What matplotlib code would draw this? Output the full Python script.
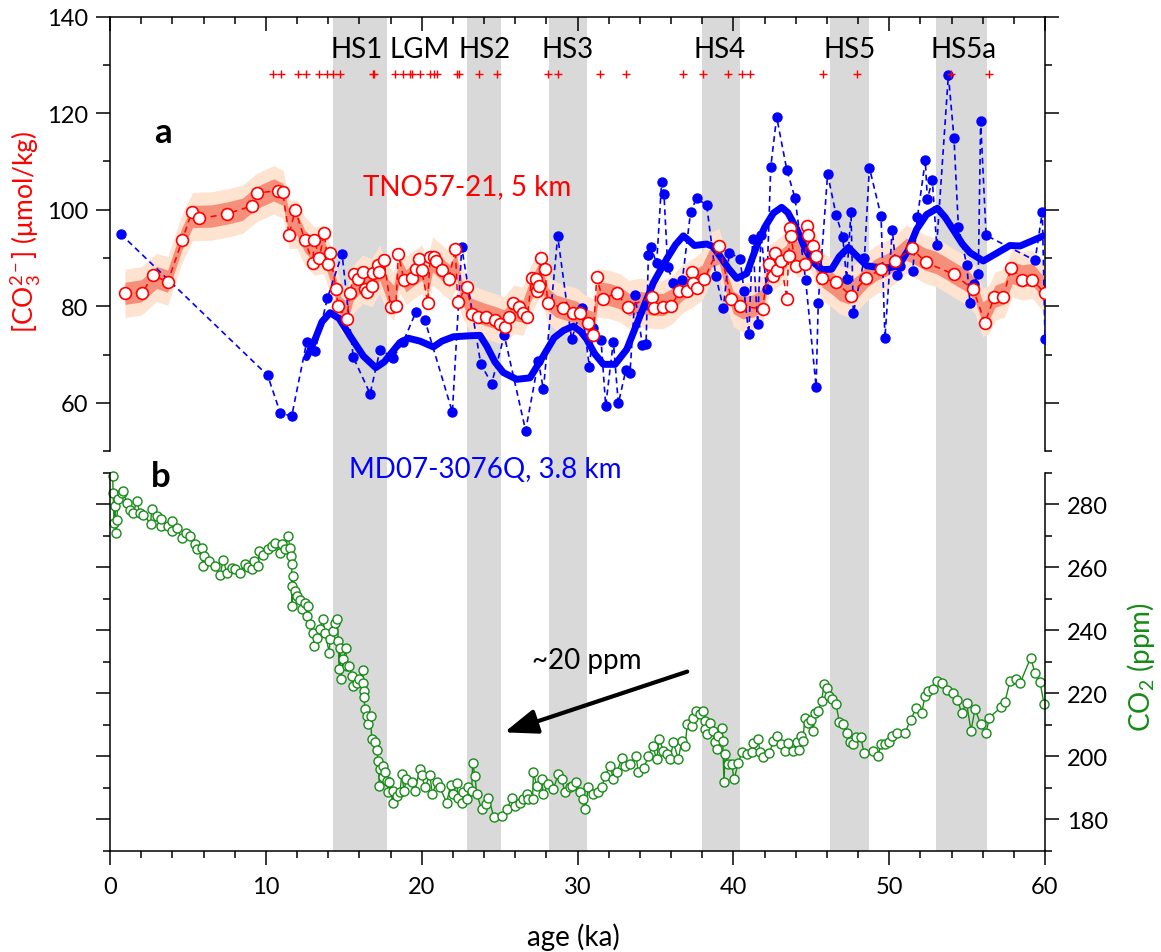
import numpy as np
import matplotlib
matplotlib.use('Agg')
from matplotlib import pyplot as plt
from matplotlib.ticker import MultipleLocator

plt.rcParams['font.family'] = ['Lato', 'DejaVu Sans']
plt.rcParams['mathtext.fontset'] = 'custom'
plt.rcParams['mathtext.rm'] = 'Lato'
plt.rcParams['mathtext.it'] = 'Lato:italic'
plt.rcParams['mathtext.bf'] = 'Lato:bold'

# ---------------- data ----------------
hs_names = ['HS1', 'LGM', 'HS2', 'HS3', 'HS4', 'HS5', 'HS5a']
hs_label_age = [15.85, 19.89, 24.06, 29.39, 39.11, 47.46, 54.74]
hs_start = [14.3, 22.9, 28.2, 38.0, 46.2, 53.0]
hs_end = [17.8, 25.1, 30.6, 40.4, 48.7, 56.3]

# radiocarbon dates (red crosses)
date_age = [10.46, 11.0, 12.06, 12.58, 13.4, 13.9, 14.33, 14.76, 16.85, 16.95,
            18.29, 18.82, 19.28, 19.38, 19.89, 20.54, 20.81, 20.96, 22.25, 22.42,
            23.68, 24.86, 28.13, 28.77, 31.44, 33.11, 36.75, 38.07, 39.68, 40.54,
            41.07, 45.77, 47.92, 53.95, 56.39]
date_level = 128

# TNO57-21 [CO3 2-]
tno_age = [0.96, 2.07, 2.78, 3.70, 4.64, 5.24, 5.73, 7.49, 9.09, 9.41,
           10.80, 11.08, 11.49, 11.89, 12.51, 13.01, 13.11, 13.43, 13.75, 14.01,
           14.12, 14.50, 14.63, 15.19, 15.40, 15.66, 15.94, 16.21, 16.36, 16.47,
           16.83, 16.90, 17.22, 17.28, 17.58, 18.01, 18.35, 18.50, 18.87, 19.36,
           19.64, 19.85, 20.00, 20.39, 20.54, 20.79, 20.92, 21.33, 21.73, 22.16,
           22.31, 22.89, 23.25, 23.59, 24.13, 24.69, 25.03, 25.35, 25.63, 25.84,
           26.23, 26.48, 26.78, 27.06, 27.32, 27.38, 27.55, 27.64, 27.91, 28.09,
           29.09, 29.69, 30.16, 30.65, 31.02, 31.23, 31.61, 32.52, 33.22, 34.80,
           34.90, 35.47, 36.02, 36.53, 37.01, 37.35, 37.40, 37.69, 38.14, 39.10,
           39.87, 40.45, 41.88, 42.27, 42.57, 42.65, 42.82, 43.06, 43.43, 43.55,
           43.64, 43.68, 44.02, 44.60, 44.75, 44.80, 45.13, 45.31, 45.67, 46.57,
           47.53, 48.51, 49.46, 50.37, 51.45, 52.36, 54.16, 55.40, 56.15, 56.75,
           57.33, 57.82, 58.55, 59.19, 60.0]
tno_co3 = [82.8, 82.8, 86.5, 85.0, 93.7, 99.5, 98.2, 99.1, 100.8, 103.5,
           103.9, 103.6, 94.8, 100.0, 93.7, 88.9, 93.8, 90.1, 95.1, 88.7,
           91.1, 83.6, 80.0, 77.3, 82.8, 86.6, 85.6, 87.2, 83.5, 83.0,
           84.2, 87.0, 88.5, 87.1, 89.6, 79.9, 80.1, 90.8, 85.4, 85.8,
           87.7, 89.8, 87.5, 80.8, 90.3, 90.2, 89.4, 87.5, 85.6, 91.8,
           81.0, 84.1, 78.4, 77.9, 77.8, 77.1, 76.3, 75.7, 77.8, 80.6,
           79.8, 78.6, 77.7, 85.9, 85.6, 83.2, 84.2, 90.0, 87.7, 80.6,
           79.7, 78.6, 78.6, 76.6, 74.0, 86.0, 81.6, 82.7, 79.9, 82.0,
           79.6, 79.9, 80.0, 83.1, 83.2, 87.1, 84.9, 83.7, 85.6, 92.5,
           81.5, 80.0, 79.5, 88.7, 86.3, 91.0, 87.5, 89.4, 81.5, 90.4,
           96.3, 94.6, 88.4, 88.7, 96.7, 94.8, 92.5, 90.4, 85.8, 85.1,
           82.2, 85.8, 87.7, 89.4, 92.0, 89.1, 86.6, 83.5, 76.6, 82.0,
           82.0, 88.0, 85.5, 85.5, 82.7]

# TNO57-21 uncertainty envelope (centre line, half widths)
band_age = [0.96, 2.0, 3.0, 3.7, 4.6, 5.3, 6.5, 7.5, 8.5, 9.4,
            10.5, 11.1, 11.5, 12.0, 12.5, 13.1, 13.7, 14.3, 14.8, 15.2,
            15.6, 16.2, 16.8, 17.3, 17.8, 18.2, 18.6, 19.0, 19.5, 20.0,
            20.4, 20.7, 21.3, 21.8, 22.2, 22.6, 23.2, 24.0, 24.7, 25.3,
            25.9, 26.5, 27.0, 27.6, 28.1, 28.6, 29.3, 30.0, 30.5, 31.0,
            31.3, 32.0, 32.7, 33.3, 34.0, 34.9, 35.5, 36.1, 36.7, 37.4,
            38.0, 38.6, 39.1, 39.5, 40.0, 40.6, 41.3, 41.9, 42.3, 42.9,
            43.4, 43.7, 44.1, 44.6, 44.8, 45.2, 45.7, 46.3, 46.8, 47.4,
            48.0, 48.6, 49.2, 49.9, 50.5, 51.1, 51.6, 52.3, 53.0, 53.6,
            54.3, 55.0, 55.5, 56.0, 56.4, 56.8, 57.4, 57.9, 58.5, 59.2, 60.0]
band_mid = [82.7, 83.2, 86.0, 85.2, 93.9, 98.6, 98.7, 99.3, 100.1, 102.5,
            104.1, 103.2, 97.0, 97.0, 93.5, 91.5, 91.8, 86.0, 79.7, 78.7,
            83.5, 85.6, 84.9, 87.7, 83.5, 82.1, 87.7, 85.3, 86.6, 87.7,
            84.9, 89.4, 87.7, 86.3, 88.7, 82.8, 79.4, 78.4, 77.7, 77.0,
            79.4, 79.0, 83.5, 87.0, 81.5, 80.1, 79.4, 78.7, 77.3, 76.6,
            82.8, 82.5, 81.8, 80.4, 80.8, 80.4, 80.4, 81.5, 83.5, 84.9,
            86.3, 90.4, 91.1, 85.6, 80.8, 79.7, 80.1, 81.5, 87.7, 89.1,
            90.4, 93.9, 91.1, 91.1, 93.9, 90.4, 86.3, 84.9, 83.5, 82.8,
            84.2, 86.3, 87.7, 88.7, 90.1, 91.8, 91.1, 89.8, 89.1, 88.0,
            86.6, 85.3, 83.5, 78.7, 79.4, 82.1, 82.8, 87.0, 86.3, 86.6, 83.5]
band_inner = 2.3
band_outer = 5.0

# MD07-3076Q [CO3 2-]
md_age = [0.68, 10.12, 10.93, 11.66, 12.62, 13.16, 13.95, 14.89, 15.61, 16.69,
          17.33, 18.18, 18.82, 19.64, 20.21, 21.97, 22.57, 23.79, 24.49, 25.30,
          26.67, 27.49, 27.81, 28.73, 29.62, 30.27, 30.76, 31.02, 31.51, 31.81,
          32.30, 32.62, 33.11, 33.37, 33.69, 34.16, 34.40, 34.55, 34.72, 35.08,
          35.40, 35.55, 35.79, 36.15, 36.73, 37.26, 37.65, 38.29, 38.87, 39.36,
          39.74, 40.43, 40.69, 40.99, 41.24, 41.56, 41.78, 42.14, 42.40, 42.78,
          43.43, 43.96, 44.64, 45.31, 45.45, 46.05, 46.59, 47.02, 47.27, 47.55,
          47.70, 48.41, 48.73, 49.48, 49.73, 50.20, 50.48, 50.70, 51.51, 51.81,
          52.32, 52.45, 52.77, 53.05, 53.80, 54.16, 54.44, 54.98, 55.19, 55.45,
          55.72, 55.87, 56.22, 59.36, 59.83, 60.0]
md_co3 = [95.0, 65.7, 57.9, 57.3, 72.6, 70.8, 81.7, 90.9, 69.5, 61.9,
          71.0, 69.4, 72.7, 78.9, 77.1, 58.1, 92.2, 68.1, 64.0, 74.0,
          54.3, 68.6, 62.8, 94.5, 73.2, 79.7, 67.5, 75.5, 73.0, 59.4,
          72.7, 59.9, 66.9, 66.3, 82.3, 72.1, 72.3, 90.6, 92.2, 88.9,
          105.8, 103.2, 88.2, 84.9, 85.5, 99.6, 102.4, 100.9, 86.3, 79.7,
          91.1, 89.9, 83.1, 74.2, 93.9, 76.3, 94.8, 83.5, 108.8, 119.2,
          108.3, 102.4, 85.4, 63.4, 80.8, 107.4, 99.0, 94.4, 85.6, 99.6,
          78.6, 90.0, 108.7, 98.7, 73.4, 95.9, 86.5, 88.4, 87.3, 98.4,
          110.2, 102.2, 106.1, 92.6, 127.9, 114.8, 96.5, 88.6, 80.6, 84.6,
          86.8, 118.3, 94.7, 89.5, 99.6, 73.3]

# MD07-3076Q smoothed curve
smooth_age = [12.62, 13.2, 13.6, 14.12, 14.7, 15.4, 16.26, 17.05, 17.6, 18.07,
              18.6, 19.15, 19.9, 20.75, 21.3, 22.03, 23.0, 23.74, 24.17, 24.7,
              25.24, 26.1, 26.95, 27.8, 28.5, 29.1, 29.73, 30.2, 30.59, 31.1,
              31.66, 32.41, 33.16, 34.01, 34.87, 35.72, 36.3, 36.79, 37.2, 37.5,
              38.29, 38.7, 39.14, 39.7, 40.22, 40.86, 41.5, 42.0, 42.57, 43.1,
              43.5, 44.07, 44.6, 45.13, 45.7, 46.31, 46.8, 47.38, 47.9, 48.56,
              49.41, 50.0, 50.59, 51.2, 51.77, 52.4, 53.09, 53.6, 54.22, 54.7,
              55.19, 56.04, 56.9, 57.75, 58.4, 59.2, 59.9]
smooth_co3 = [69.4, 73.5, 76.8, 78.7, 77.5, 73.9, 69.7, 67.3, 68.5, 70.4,
              72.5, 73.4, 72.8, 71.6, 72.8, 73.7, 73.9, 74.0, 71.8, 68.5,
              66.3, 64.9, 65.2, 69.7, 73.5, 75.0, 75.9, 74.8, 73.2, 70.2,
              68.0, 68.0, 71.1, 78.0, 84.9, 89.8, 92.8, 94.6, 93.5, 92.6,
              92.9, 92.4, 90.4, 87.8, 85.8, 86.8, 92.5, 96.3, 99.3, 100.5,
              99.4, 96.0, 92.0, 89.1, 87.6, 87.7, 90.3, 92.2, 90.5, 88.4,
              88.0, 88.0, 88.4, 91.5, 96.0, 99.0, 100.3, 98.4, 95.3, 92.9,
              91.1, 89.4, 91.0, 92.6, 92.5, 93.6, 94.6]

# ice-core CO2
co2_age = [0.17, 0.20, 0.26, 0.32, 0.39, 0.43, 0.54, 0.75, 0.86, 1.07,
           1.28, 1.50, 1.71, 1.92, 2.14, 2.61, 2.67, 2.99, 3.25, 3.30,
           3.74, 3.96, 4.00, 4.28, 4.60, 4.88, 5.13, 5.45, 5.56, 5.88,
           5.95, 6.05, 6.37, 6.74, 7.06, 7.27, 7.49, 7.81, 8.02, 8.34,
           8.66, 8.88, 9.09, 9.24, 9.52, 9.55, 9.84, 10.16, 10.37, 10.59,
           10.91, 11.02, 11.23, 11.44, 11.55, 11.62, 11.66, 11.68, 11.70, 11.76,
           11.87, 11.98, 12.19, 12.30, 12.51, 12.62, 12.73, 12.83, 13.05, 13.10,
           13.26, 13.48, 13.65, 13.80, 14.07, 14.12, 14.29, 14.44, 14.59, 14.65,
           14.70, 14.76, 14.80, 14.97, 15.14, 15.19, 15.36, 15.51, 15.61, 15.83,
           16.00, 16.21, 16.26, 16.28, 16.30, 16.36, 16.47, 16.58, 16.73, 16.79,
           17.01, 17.11, 17.22, 17.28, 17.33, 17.50, 17.54, 17.65, 17.75, 17.86,
           17.92, 18.14, 18.18, 18.40, 18.61, 18.72, 18.87, 19.00, 19.36, 19.57,
           19.89, 20.00, 20.21, 20.53, 20.68, 20.96, 21.17, 21.60, 21.86, 22.03,
           22.25, 22.35, 22.57, 22.67, 22.89, 22.99, 23.21, 23.27, 23.42, 23.53,
           23.85, 24.13, 24.28, 24.64, 25.13, 25.46, 25.78, 25.99, 26.31, 26.52,
           26.74, 26.84, 27.12, 27.17, 27.38, 27.70, 27.81, 28.13, 28.45, 28.77,
           28.98, 29.20, 29.52, 29.63, 29.90, 30.16, 30.33, 30.48, 30.70, 31.02,
           31.34, 31.55, 31.77, 32.09, 32.30, 32.52, 32.84, 33.05, 33.37, 33.76,
           33.90, 34.27, 34.55, 34.82, 35.08, 35.25, 35.51, 35.72, 35.94, 36.15,
           36.47, 36.69, 36.90, 37.05, 37.33, 37.43, 37.60, 37.86, 38.03, 38.18,
           38.20, 38.33, 38.50, 38.67, 38.82, 38.93, 39.04, 39.25, 39.32, 39.40,
           39.47, 39.68, 39.90, 40.04, 40.32, 40.54, 40.86, 41.18, 41.28, 41.60,
           41.71, 41.88, 42.31, 42.57, 42.82, 43.04, 43.32, 43.53, 43.81, 44.07,
           44.24, 44.32, 44.45, 44.60, 44.81, 44.96, 45.14, 45.24, 45.46, 45.67,
           45.82, 46.03, 46.16, 46.31, 46.59, 46.80, 47.06, 47.27, 47.49, 47.66,
           47.87, 48.17, 48.39, 48.94, 49.30, 49.45, 49.73, 49.99, 50.16, 50.48,
           51.02, 51.38, 51.72, 52.09, 52.30, 52.51, 52.79, 53.05, 53.37, 53.73,
           54.12, 54.38, 54.65, 54.97, 55.25, 55.51, 55.87, 56.22, 56.43, 57.16,
           57.43, 57.76, 58.14, 58.40, 59.08, 59.36, 59.68, 59.94]
co2_ppm = [289.0, 283.7, 274.2, 279.5, 271.0, 275.2, 281.6, 283.7, 284.2, 280.5,
           278.4, 277.4, 281.0, 277.4, 276.8, 273.9, 278.6, 276.3, 273.1, 275.4,
           273.1, 274.7, 271.5, 272.6, 269.2, 271.0, 270.0, 267.3, 265.7, 266.2,
           260.4, 263.6, 262.2, 260.4, 257.5, 262.5, 258.3, 259.9, 259.4, 258.3,
           261.0, 260.2, 259.4, 262.0, 260.4, 265.2, 264.1, 265.7, 266.8, 267.8,
           264.7, 267.3, 265.7, 270.0, 266.2, 263.6, 261.0, 247.7, 254.1, 257.3,
           252.5, 250.9, 249.8, 246.7, 248.8, 244.6, 247.7, 241.9, 239.3, 235.0,
           237.7, 240.3, 243.7, 239.3, 232.9, 237.2, 239.8, 242.5, 243.5, 236.6,
           227.6, 234.5, 224.5, 230.8, 234.5, 228.7, 228.7, 225.5, 222.4, 223.2,
           224.5, 227.4, 223.4, 220.8, 218.7, 214.9, 212.8, 210.2, 212.8, 205.4,
           204.4, 202.0, 198.6, 190.6, 195.9, 193.3, 197.0, 194.9, 192.2, 188.5,
           191.7, 185.3, 189.0, 187.5, 188.5, 194.3, 189.0, 192.7, 191.7, 189.0,
           196.1, 194.0, 190.1, 194.0, 188.0, 191.7, 190.1, 185.3, 190.8, 188.0,
           191.5, 186.9, 185.3, 188.7, 186.4, 190.1, 189.0, 197.8, 193.8, 188.0,
           183.2, 184.8, 186.9, 180.6, 180.9, 183.2, 186.6, 184.3, 185.3, 186.4,
           188.0, 186.4, 186.4, 195.1, 190.6, 192.7, 188.0, 191.2, 189.6, 194.3,
           192.7, 188.5, 190.1, 190.6, 191.7, 188.5, 186.4, 183.2, 190.1, 188.0,
           188.5, 190.1, 193.8, 197.0, 192.7, 194.9, 199.3, 197.0, 197.5, 200.1,
           194.9, 196.4, 200.1, 203.3, 199.1, 205.4, 201.7, 200.7, 199.1, 204.4,
           199.1, 204.9, 203.3, 210.2, 209.6, 212.3, 214.4, 213.4, 214.4, 211.2,
           208.6, 207.0, 210.7, 208.1, 204.4, 202.3, 206.5, 209.1, 204.9, 191.7,
           200.7, 197.5, 197.5, 192.7, 197.8, 201.4, 200.7, 201.4, 204.2, 205.4,
           201.2, 199.9, 201.0, 204.9, 206.5, 203.8, 201.7, 204.2, 201.7, 204.4,
           202.0, 206.3, 204.9, 212.3, 210.5, 211.6, 208.1, 213.7, 214.4, 217.6,
           222.9, 221.8, 219.2, 218.3, 216.5, 211.0, 210.2, 207.5, 204.4, 203.8,
           206.0, 206.2, 201.0, 201.7, 200.1, 203.8, 203.8, 204.4, 206.5, 207.5,
           207.5, 211.6, 215.2, 213.9, 219.0, 220.8, 221.3, 224.0, 223.4, 221.1,
           220.2, 217.9, 213.9, 216.9, 208.1, 215.0, 210.2, 207.5, 212.3, 215.5,
           217.3, 224.0, 224.5, 223.2, 231.3, 226.4, 223.6, 216.5]

# annotation
arrow_tail = (37.04, 226.9)
arrow_head = (25.3, 207.6)

# ---------------- figure ----------------
W, H = 1161, 953
fig = plt.figure(figsize=(W / 100, H / 100), dpi=100)


def px_box(x0, y0, x1, y1):
    return [x0 / W, 1 - y1 / H, (x1 - x0) / W, (y1 - y0) / H]


red = '#ff0000'
blue = '#0000ff'
green = '#178a17'
gray = '#d9d9d9'

# shaded Heinrich stadials span both panels
ax_bg = fig.add_axes(px_box(110, 17.5, 1045, 851.7))
ax_bg.set_xlim(0, 60)
ax_bg.axis('off')
for a0, a1 in zip(hs_start, hs_end):
    ax_bg.axvspan(a0, a1, color=gray, lw=0)

# ---- panel a ----
ax_a = fig.add_axes(px_box(110, 17.5, 1045, 452.3))
ax_a.patch.set_visible(False)
bm = np.array(band_mid)
ax_a.fill_between(band_age, bm - band_outer, bm + band_outer, color='#fde3d0', lw=0, zorder=1)
ax_a.fill_between(band_age, bm - band_inner, bm + band_inner, color='#f68f7a', lw=0, zorder=2)
ax_a.plot(md_age, md_co3, ls=(0, (3.5, 2.5)), color=blue, lw=1.2, marker='o', ms=6.5,
          mfc=blue, mec=blue, zorder=3)
ax_a.plot(smooth_age, smooth_co3, color=blue, lw=5, solid_joinstyle='round',
          solid_capstyle='round', zorder=4)
ax_a.plot(tno_age, tno_co3, ls=(0, (4, 3)), color=red, lw=1.1, marker='o', ms=8.5,
          mfc='white', mec=red, mew=1.2, zorder=5)
ax_a.plot(date_age, [date_level] * len(date_age), ls='none', marker='+', color=red,
          ms=6, mew=1, zorder=5)

ax_a.set_xlim(0, 60)
ax_a.set_ylim(50, 140)
ax_a.spines['bottom'].set_visible(False)
for s in ax_a.spines.values():
    s.set_linewidth(1.1)
ax_a.xaxis.set_major_locator(MultipleLocator(10))
ax_a.xaxis.set_minor_locator(MultipleLocator(2))
ax_a.yaxis.set_major_locator(MultipleLocator(20))
ax_a.yaxis.set_minor_locator(MultipleLocator(10))
ax_a.tick_params(axis='x', which='both', bottom=False, top=True, labelbottom=False,
                 direction='in', width=1.1)
ax_a.tick_params(axis='y', which='both', left=True, right=True, direction='out',
                 width=1.1, labelsize=17, pad=6)
ax_a.tick_params(which='major', length=10)
ax_a.tick_params(which='minor', length=5)
ax_a.set_ylabel(r'[CO$_{\mathregular{3}}^{\mathregular{2-}}$] ($\mathregular{\mu}$mol/kg)',
                color=red, fontsize=19)
ax_a.yaxis.set_label_coords(-0.0717, 0.507)

ax_a.text(3.4, 114.0, 'a', fontsize=25, fontweight='bold', ha='center', va='baseline')
for name, age in zip(hs_names, hs_label_age):
    ax_a.text(age, 131.6, name, fontsize=20, ha='center', va='baseline', zorder=6)
ax_a.text(16.24, 103.3, 'TNO57-21, 5 km', color=red, fontsize=20, ha='left', va='baseline')
ax_a.text(15.33, 44.7, 'MD07-3076Q, 3.8 km', color=blue, fontsize=20, ha='left',
          va='baseline', clip_on=False)

# ---- panel b ----
ax_b = fig.add_axes(px_box(110, 474, 1045, 851.7))
ax_b.patch.set_visible(False)
ax_b.plot(co2_age, co2_ppm, color=green, lw=1, marker='o', ms=6.5, mfc='white',
          mec=green, mew=1, clip_on=False)
ax_b.set_xlim(0, 60)
ax_b.set_ylim(170, 290)
ax_b.spines['top'].set_visible(False)
for s in ax_b.spines.values():
    s.set_linewidth(1.1)
ax_b.xaxis.set_major_locator(MultipleLocator(10))
ax_b.xaxis.set_minor_locator(MultipleLocator(2))
ax_b.yaxis.set_major_locator(MultipleLocator(20))
ax_b.yaxis.set_minor_locator(MultipleLocator(10))
ax_b.yaxis.tick_right()
ax_b.yaxis.set_label_position('right')
ax_b.tick_params(axis='x', which='both', bottom=True, top=False, direction='out',
                 width=1.1, labelsize=17, pad=8)
ax_b.tick_params(axis='y', which='both', left=True, right=True, labelleft=False,
                 labelright=True, direction='out', width=1.1, labelsize=17, pad=6)
ax_b.tick_params(which='major', length=10)
ax_b.tick_params(which='minor', length=5)
ax_b.set_ylabel(r'CO$_{\mathregular{2}}$ (ppm)', color=green, fontsize=20)
ax_b.yaxis.set_label_coords(1.0856, 0.489)
ax_b.set_xlabel('age (ka)', fontsize=20)
ax_b.xaxis.set_label_coords(0.4957, -0.189)

ax_b.text(3.23, 285.9, 'b', fontsize=25, fontweight='bold', ha='center', va='baseline')
ax_b.text(27.08, 228.0, '~20 ppm', fontsize=20, ha='left', va='baseline')
ax_b.annotate('', xy=arrow_head, xytext=arrow_tail,
              arrowprops=dict(arrowstyle='-|>,head_length=2.0,head_width=0.75',
                              lw=3, color='black', shrinkA=0, shrinkB=0,
                              mutation_scale=10))

fig.savefig('out.png', dpi=100)
